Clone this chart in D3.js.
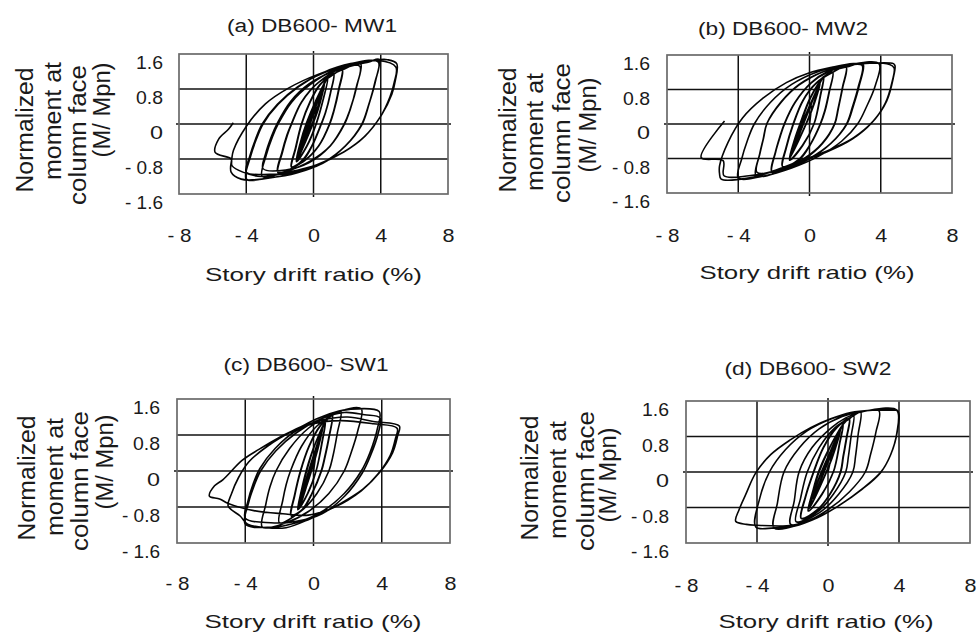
<!DOCTYPE html>
<html><head><meta charset="utf-8">
<script src="https://cdn.jsdelivr.net/npm/d3@7"></script>
<style>
body{margin:0;background:#fff}
svg{display:block}
text{font-family:Arial,"Liberation Sans",sans-serif;fill:#1a1a1a}
</style>
</head><body>
<svg id="chart" width="976" height="636"></svg>
<script>
// ---------- data ----------
const panelTitles = ["(a) DB600- MW1", "(b) DB600- MW2", "(c) DB600- SW1", "(d) DB600- SW2"];
const xTickValues = [-8, -4, 0, 4, 8];
const xTickLabels = ["- 8", "- 4", "0", "4", "8"];
const yTickValues = [1.6, 0.8, 0, -0.8, -1.6];
const yTickLabels = ["1.6", "0.8", "0", "- 0.8", "- 1.6"];
const xGridValues = [-4, 0, 4];
const yGridValues = [0.8, 0, -0.8];
const xTitle = "Story drift ratio (%)";
const yTitleLines = ["Normalized", "moment at", "column face", "(M/ Mpn)"];

// hysteresis paths: [story drift ratio (%), M/Mpn]
const pathA = [
 [0,0],[0.17,0.45],[-0.61,-0.45],[0.2,0.47],[-0.6,-0.47],
 [0.3,0.6],[-0.74,-0.6],[0.32,0.62],[-0.72,-0.62],
 [0.55,0.85],[0.1,0.2],[-0.9,-0.78],[-0.45,-0.2],[0.58,0.88],
 [0.62,0.92],[0.2,0.3],[-0.95,-0.8],[-0.5,-0.25],[0.66,0.95],[0.25,0.3],[-0.98,-0.82],[-0.55,-0.25],[0.7,0.98],
 [0.85,1.05],[0.6,0.6],[0.15,0.0],[-0.4,-0.5],[-1.0,-0.85],[-0.75,-0.4],[-0.4,0.0],[0.1,0.5],[0.85,1.05],
 [0.62,0.62],[0.18,0.02],[-0.38,-0.5],[-1.02,-0.86],[-0.78,-0.42],[-0.42,0.02],[0.12,0.52],[0.88,1.06],
 [1.2,1.15],[1.0,0.7],[0.7,0.25],[0.45,0.0],[-0.1,-0.5],[-0.6,-0.8],[-1.3,-1.0],[-1.05,-0.55],[-0.7,0.0],[-0.2,0.5],[0.4,0.9],[1.2,1.15],
 [1.02,0.72],[0.72,0.26],[0.47,0.0],[-0.08,-0.5],[-0.6,-0.82],[-1.32,-0.98],[-1.08,-0.56],[-0.72,0.0],[-0.22,0.5],[0.38,0.9],[1.22,1.14],
 [1.7,1.25],[1.5,0.8],[1.2,0.3],[0.95,0.0],[0.3,-0.5],[-0.6,-0.85],[-2.1,-1.12],[-1.85,-0.65],[-1.55,-0.25],[-1.3,0.0],[-0.7,0.5],[0.3,0.95],[1.7,1.25],
 [1.52,0.8],[1.22,0.3],[0.97,0.0],[0.32,-0.5],[-0.6,-0.86],[-2.12,-1.1],[-1.88,-0.65],[-1.58,-0.25],[-1.32,0.0],[-0.72,0.5],[0.3,0.95],[1.72,1.24],
 [2.8,1.38],[2.6,0.9],[2.2,0.35],[1.85,0.0],[1.0,-0.5],[-0.2,-0.85],[-1.6,-1.08],[-3.05,-1.2],[-2.8,-0.7],[-2.45,-0.3],[-2.1,0.0],[-1.3,0.5],[-0.2,0.9],[1.2,1.22],[2.75,1.32],
 [2.55,0.85],[2.15,0.3],[1.8,-0.02],[0.95,-0.52],[-0.25,-0.88],[-1.65,-1.05],[-3.0,-1.02],[-2.85,-0.68],[-2.5,-0.28],[-2.15,0.02],[-1.35,0.52],[-0.25,0.92],[1.15,1.2],[2.6,1.36],[3.3,1.42],
 [3.9,1.48],[3.7,1.0],[3.3,0.45],[2.9,0.0],[1.9,-0.5],[0.6,-0.88],[-1.0,-1.12],[-2.6,-1.23],[-4.0,-1.26],[-3.75,-0.75],[-3.4,-0.35],[-3.0,0.0],[-2.1,0.45],[-0.9,0.85],[0.6,1.18],[2.2,1.38],[3.85,1.42],
 [3.65,0.95],[3.25,0.4],[2.85,-0.02],[1.85,-0.52],[0.55,-0.9],[-1.05,-1.1],[-2.6,-1.15],[-4.0,-1.1],[-3.8,-0.75],[-3.45,-0.35],[-3.05,0.0],[-2.15,0.45],[-0.95,0.85],[0.55,1.16],[2.2,1.36],[3.9,1.47],[4.4,1.47],[4.95,1.38],
 [4.86,0.98],[4.66,0.68],[4.07,0.22],[3.08,-0.27],[1.88,-0.62],[0.3,-0.92],[-1.49,-1.15],[-3.08,-1.26],[-4.3,-1.26],[-4.9,-1.1],
 [-4.86,-0.8],[-4.76,-0.6],[-3.99,-0.05],[-2.86,0.46],[-1.49,0.82],[0.3,1.14],[2.26,1.37],[3.87,1.45],[4.9,1.3],
 [4.8,0.95],[4.55,0.62],[4.0,0.18],[3.0,-0.3],[1.8,-0.64],[0.2,-0.93],[-1.5,-1.1],[-3.1,-1.2],[-4.2,-1.1],[-4.85,-0.95],[-4.9,-0.8],
 [-5.85,-0.65],[-5.65,-0.35],[-5.06,-0.12],[-4.77,0.03]
];

const pathB = [
 [0,0],[0.09,0.45],[-0.79,-0.45],[0.1,0.46],[-0.78,-0.46],
 [0.23,0.6],[-0.93,-0.6],[0.25,0.62],[-0.92,-0.6],
 [0.48,0.85],[0.05,0.25],[-1.08,-0.75],[-0.6,-0.2],[0.5,0.87],
 [0.55,0.92],[0.1,0.3],[-1.1,-0.78],[-0.65,-0.25],[0.6,0.95],[0.12,0.3],[-1.12,-0.8],[-0.68,-0.25],[0.65,1.0],
 [0.8,1.1],[0.6,0.65],[0.25,0.0],[-0.4,-0.5],[-1.1,-0.82],[-0.85,-0.4],[-0.5,0.0],[0.05,0.6],[0.8,1.1],
 [0.62,0.66],[0.27,0.02],[-0.38,-0.5],[-1.12,-0.84],[-0.87,-0.4],[-0.52,0.02],[0.05,0.62],[0.82,1.1],
 [1.3,1.2],[1.1,0.75],[0.85,0.3],[0.6,0.0],[0.0,-0.5],[-0.6,-0.82],[-1.5,-1.0],[-1.3,-0.55],[-0.9,0.0],[-0.35,0.55],[0.4,0.95],[1.3,1.2],
 [1.12,0.76],[0.87,0.3],[0.62,0.0],[0.02,-0.5],[-0.6,-0.84],[-1.52,-0.98],[-1.32,-0.55],[-0.92,0.0],[-0.37,0.55],[0.4,0.96],[1.32,1.2],
 [2.05,1.33],[1.85,0.85],[1.6,0.35],[1.4,0.0],[0.7,-0.45],[-0.3,-0.8],[-1.2,-1.0],[-2.1,-1.12],[-1.9,-0.65],[-1.65,-0.3],[-1.4,0.0],[-0.8,0.5],[0.1,0.95],[1.0,1.2],[2.05,1.33],
 [1.87,0.86],[1.62,0.36],[1.42,0.0],[0.72,-0.46],[-0.3,-0.82],[-1.2,-1.0],[-2.12,-1.1],[-1.92,-0.66],[-1.67,-0.3],[-1.42,0.0],[-0.82,0.5],[0.1,0.96],[1.0,1.21],[2.07,1.32],
 [3.0,1.4],[2.8,0.9],[2.45,0.4],[2.1,0.0],[1.2,-0.45],[0.0,-0.8],[-1.5,-1.08],[-3.0,-1.2],[-2.8,-0.7],[-2.6,-0.35],[-2.4,0.0],[-1.6,0.5],[-0.6,0.9],[0.8,1.22],[2.0,1.35],[2.95,1.36],
 [2.75,0.88],[2.4,0.38],[2.05,-0.02],[1.15,-0.47],[-0.05,-0.82],[-1.55,-1.06],[-2.95,-1.12],[-2.78,-0.68],[-2.58,-0.33],[-2.38,0.02],[-1.58,0.52],[-0.58,0.92],[0.8,1.22],[2.2,1.37],
 [3.9,1.4],[3.7,0.9],[3.2,0.4],[2.7,0.0],[1.8,-0.4],[0.5,-0.75],[-1.0,-1.02],[-2.5,-1.2],[-4.0,-1.25],[-3.8,-0.8],[-3.5,-0.4],[-3.1,0.0],[-2.2,0.5],[-1.0,0.92],[0.5,1.22],[2.0,1.37],[3.0,1.4],[4.71,1.4],[4.8,1.35],
 [4.71,1.08],[4.33,0.53],[3.58,0.07],[2.46,-0.32],[0.95,-0.63],[-0.56,-0.86],[-2.05,-1.09],[-3.36,-1.25],[-4.96,-1.28],[-5.05,-1.15],[-5.05,-0.97],
 [-4.58,-0.43],[-3.76,0.14],[-2.61,0.6],[-1.3,0.96],[0,1.19],[1.31,1.32],[2.46,1.4],[4.5,1.38],[4.75,1.3],
 [4.65,1.0],[4.25,0.48],[3.5,0.03],[2.4,-0.35],[0.9,-0.66],[-0.6,-0.88],[-2.1,-1.1],[-3.4,-1.2],[-4.8,-1.2],[-4.85,-0.85],
 [-6.08,-0.78],[-4.77,0.07]
];

const pathC = [
 [0,0],[0.15,0.45],[-0.53,-0.45],[0.17,0.47],[-0.52,-0.46],
 [0.26,0.6],[-0.64,-0.6],[0.28,0.62],[-0.63,-0.61],
 [0.45,0.85],[0.05,0.25],[-0.78,-0.78],[-0.4,-0.2],[0.47,0.87],
 [0.52,0.95],[0.1,0.3],[-0.82,-0.8],[-0.45,-0.25],[0.56,0.98],[0.12,0.3],[-0.85,-0.82],[-0.48,-0.25],[0.6,1.02],
 [0.7,1.1],[0.5,0.65],[0.15,0.0],[-0.35,-0.5],[-0.9,-0.85],[-0.7,-0.45],[-0.4,0.0],[0.05,0.55],[0.7,1.1],
 [0.52,0.66],[0.17,0.02],[-0.33,-0.5],[-0.92,-0.86],[-0.72,-0.45],[-0.42,0.02],[0.05,0.56],[0.72,1.1],
 [1.1,1.25],[0.9,0.75],[0.65,0.3],[0.45,0.0],[-0.1,-0.5],[-0.65,-0.85],[-1.3,-1.0],[-1.1,-0.55],[-0.75,0.0],[-0.25,0.55],[0.4,1.0],[1.1,1.25],
 [0.92,0.76],[0.67,0.3],[0.47,0.0],[-0.08,-0.5],[-0.65,-0.86],[-1.32,-0.98],[-1.12,-0.55],[-0.77,0.0],[-0.27,0.55],[0.4,1.01],[1.12,1.24],
 [1.6,1.33],[1.4,0.85],[1.15,0.35],[0.9,0.0],[0.2,-0.5],[-0.7,-0.88],[-2.0,-1.15],[-1.8,-0.65],[-1.6,-0.3],[-1.35,0.0],[-0.7,0.55],[0.2,1.0],[1.6,1.33],
 [2.8,1.38],[2.6,0.9],[2.2,0.4],[1.8,0.0],[0.9,-0.5],[-0.3,-0.9],[-1.6,-1.15],[-3.0,-1.25],[-2.8,-0.75],[-2.55,-0.35],[-2.2,0.0],[-1.4,0.5],[-0.3,0.95],[1.1,1.28],[2.1,1.37],[3.85,1.32],
 [3.75,0.95],[3.3,0.4],[2.8,0.0],[1.8,-0.5],[0.5,-0.9],[-1.0,-1.15],[-2.5,-1.25],[-4.0,-1.18],
 [-3.8,-0.7],[-3.5,-0.35],[-3.1,0.0],[-2.2,0.45],[-1.0,0.85],[0.4,1.15],[1.8,1.3],[3.0,1.25],[3.9,1.18],
 [3.8,0.85],[3.35,0.35],[2.85,-0.05],[1.85,-0.55],[0.5,-0.95],[-1.0,-1.12],[-2.5,-1.15],[-4.0,-1.05],
 [-3.85,-0.68],[-3.55,-0.3],[-3.15,0.05],[-2.25,0.5],[-1.0,0.9],[0.4,1.12],[2.0,1.2],[3.5,1.1],[5.03,1.0],
 [4.93,0.78],[4.64,0.41],[3.86,-0.04],[2.88,-0.41],[1.32,-0.78],[-0.24,-1.07],[-1.61,-1.26],[-2.78,-1.26],[-3.86,-1.18],[-4.3,-1.0],[-5.0,-0.78],
 [-4.8,-0.5],[-4.4,-0.15],[-3.8,0.2],[-2.7,0.55],[-1.4,0.85],[0.0,1.05],[1.6,1.12],[3.5,1.05],[4.9,0.95],
 [4.8,0.72],[4.5,0.35],[3.75,-0.08],[2.8,-0.44],[1.25,-0.8],[-0.3,-0.98],[-1.8,-0.95],[-3.5,-0.88],[-5.0,-0.72],
 [-5.5,-0.62],[-6.1,-0.56],[-5.8,-0.33],[-5.3,-0.19],[-4.17,0.24],[-3.2,0.48],[-2.03,0.74],[-0.86,0.96],[0.31,1.18],[1.49,1.33],[2.1,1.37]
];

const pathD = [
 [0,0],[0.22,0.45],[-0.68,-0.45],[0.24,0.47],[-0.67,-0.46],
 [0.37,0.6],[-0.82,-0.6],[0.39,0.62],[-0.8,-0.6],
 [0.6,0.85],[0.15,0.25],[-1.0,-0.78],[-0.55,-0.2],[0.62,0.87],
 [0.66,0.92],[0.2,0.3],[-1.02,-0.8],[-0.6,-0.25],[0.7,0.95],[0.22,0.3],[-1.05,-0.82],[-0.62,-0.25],[0.75,1.0],
 [0.85,1.07],[0.65,0.65],[0.3,0.0],[-0.35,-0.5],[-1.1,-0.88],[-0.85,-0.45],[-0.5,0.0],[0.1,0.55],[0.85,1.07],
 [0.67,0.66],[0.32,0.02],[-0.33,-0.5],[-1.12,-0.88],[-0.87,-0.45],[-0.52,0.02],[0.1,0.56],[0.87,1.08],
 [1.2,1.2],[1.05,0.8],[0.85,0.35],[0.7,0.0],[0.1,-0.5],[-0.6,-0.85],[-1.5,-1.05],[-1.25,-0.55],[-0.8,0.0],[-0.25,0.55],[0.5,1.0],[1.2,1.2],
 [1.07,0.8],[0.87,0.35],[0.72,0.0],[0.12,-0.5],[-0.6,-0.86],[-1.52,-1.04],[-1.27,-0.55],[-0.82,0.0],[-0.27,0.55],[0.5,1.01],[1.22,1.2],
 [1.45,1.27],[1.3,0.8],[1.15,0.35],[1.0,0.0],[0.3,-0.5],[-0.6,-0.9],[-1.8,-1.12],[-1.55,-0.6],[-1.17,0.0],[-0.5,0.55],[0.4,1.0],[1.45,1.27],
 [1.84,1.35],[1.7,0.85],[1.55,0.35],[1.4,0.0],[0.6,-0.5],[-0.5,-0.92],[-2.1,-1.18],[-1.9,-0.65],[-1.63,0.0],[-0.9,0.55],[0.2,1.0],[1.0,1.22],[1.84,1.35],
 [2.87,1.38],[2.7,0.9],[2.4,0.4],[2.1,0.0],[1.2,-0.45],[0.0,-0.85],[-1.4,-1.15],[-3.04,-1.26],[-2.85,-0.7],[-2.48,0.0],[-1.6,0.55],[-0.5,0.97],[0.8,1.25],[2.0,1.37],[3.9,1.39],
 [3.9,0.91],[3.53,0.39],[3.0,0.01],[2.0,-0.36],[0.68,-0.74],[-0.6,-1.03],[-1.92,-1.22],[-3.04,-1.26],[-4.07,-1.24],
 [-3.85,-0.6],[-3.3,0.0],[-2.4,0.5],[-1.2,0.92],[0.2,1.2],[1.5,1.34],[2.5,1.39],[3.88,1.39],
 [3.88,0.88],[3.5,0.36],[2.95,-0.02],[1.95,-0.38],[0.6,-0.76],[-0.7,-1.05],[-2.0,-1.2],[-4.0,-1.2],[-4.6,-1.18],[-5.2,-1.11],
 [-5.01,-0.85],[-4.64,-0.51],[-4.07,-0.02],[-3.23,0.39],[-2.1,0.73],[-0.98,1.0],[0.15,1.2],[1.28,1.34],[2.4,1.39],[3.9,1.39]
];

const panelPaths = [pathA, pathB, pathC, pathD];

// ---------- layout (pixels) ----------
const layout = [
 {frame:[179,448,54,194], title:[312,26,170], yTickRight:163, xTickDy:41, xTitle:[313.5,274,217],
  yTitleX:[25,53,78,102], yTitleY:[130,121,135,110]},
 {frame:[667,952,55,193], title:[783,29,170], yTickRight:650, xTickDy:42, xTitle:[807,272,215],
  yTitleX:[508,535,562,588], yTitleY:[130,132,133,125]},
 {frame:[177,450,399,543], title:[306,365,165], yTickRight:160, xTickDy:40, xTitle:[313,621,217],
  yTitleX:[27,55,80,105], yTitleY:[478,477,481,462]},
 {frame:[686,970,401,543], title:[808,369,167], yTickRight:669, xTickDy:42, xTitle:[826,621,215],
  yTitleX:[530,558,586,608], yTitleY:[478,480,481,475]}
];
const yTickWidth = {"1.6":27,"0.8":27,"0":13,"- 0.8":38,"- 1.6":38};
const xTickWidth = {"- 8":24,"- 4":24,"0":12,"4":12,"8":12};
const yTitleLen = [125,118,140,95];
const FONT = "Arial, 'Liberation Sans', sans-serif";

const svg = d3.select("#chart");

panelTitles.forEach((title, i) => {
  const L = layout[i];
  const [fx0, fx1, fy0, fy1] = L.frame;
  const x = d3.scaleLinear().domain([-8, 8]).range([fx0, fx1]);
  const y = d3.scaleLinear().domain([-1.6, 1.6]).range([fy1, fy0]);
  const g = svg.append("g");

  // grid
  g.selectAll(".vg").data(xGridValues).join("line")
    .attr("x1", d => x(d)).attr("x2", d => x(d))
    .attr("y1", d => d === 0 ? fy0 - 3 : fy0).attr("y2", d => d === 0 ? fy1 + 3 : fy1)
    .attr("stroke", "#111").attr("stroke-width", 1.5);
  g.selectAll(".hg").data(yGridValues).join("line")
    .attr("y1", d => y(d)).attr("y2", d => y(d))
    .attr("x1", d => d === 0 ? fx0 - 3 : fx0).attr("x2", d => d === 0 ? fx1 + 3 : fx1)
    .attr("stroke", "#111").attr("stroke-width", 1.5);
  // frame
  g.append("rect").attr("x", fx0).attr("y", fy0).attr("width", fx1 - fx0).attr("height", fy1 - fy0)
    .attr("fill", "none").attr("stroke", "#6a6a6a").attr("stroke-width", 1.7);

  // hysteresis curve
  const line = d3.line().x(d => x(d[0])).y(d => y(d[1])).curve(d3.curveCatmullRom.alpha(0.5));
  g.append("path").datum(panelPaths[i]).attr("d", line)
    .attr("fill", "none").attr("stroke", "#050505").attr("stroke-width", 1.6).attr("stroke-linejoin", "round");

  // x axis tick labels
  const xa = g.append("g").attr("transform", `translate(0,${fy1})`)
    .call(d3.axisBottom(x).tickValues(xTickValues).tickFormat((d, k) => xTickLabels[k]).tickSize(0));
  xa.select(".domain").remove();
  xa.selectAll("text").attr("y", L.xTickDy).attr("dy", "0.36em")
    .attr("font-size", 18.5).attr("font-family", FONT).attr("fill", "#1a1a1a")
    .attr("textLength", function () { return xTickWidth[this.textContent]; })
    .attr("lengthAdjust", "spacingAndGlyphs");

  // y axis tick labels
  const ya = g.append("g").attr("transform", `translate(${L.yTickRight},0)`)
    .call(d3.axisLeft(y).tickValues(yTickValues).tickFormat((d, k) => yTickLabels[k]).tickSize(0));
  ya.select(".domain").remove();
  ya.selectAll("text").attr("x", 0).attr("y", 8).attr("dy", "0.36em")
    .attr("font-size", 18.5).attr("font-family", FONT).attr("fill", "#1a1a1a")
    .attr("textLength", function () { return yTickWidth[this.textContent]; })
    .attr("lengthAdjust", "spacingAndGlyphs");

  // title
  g.append("text").attr("x", L.title[0]).attr("y", L.title[1]).attr("dy", "0.36em")
    .attr("text-anchor", "middle").attr("font-size", 18)
    .attr("textLength", L.title[2]).attr("lengthAdjust", "spacingAndGlyphs").text(title);

  // x title
  g.append("text").attr("x", L.xTitle[0]).attr("y", L.xTitle[1]).attr("dy", "0.36em")
    .attr("text-anchor", "middle").attr("font-size", 19)
    .attr("textLength", L.xTitle[2]).attr("lengthAdjust", "spacingAndGlyphs").text(xTitle);

  // y title (rotated, four lines)
  yTitleLines.forEach((t, k) => {
    g.append("text")
      .attr("transform", `translate(${L.yTitleX[k]},${L.yTitleY[k]}) rotate(-90)`)
      .attr("dy", "0.36em").attr("text-anchor", "middle").attr("font-size", 23)
      .attr("textLength", yTitleLen[k]).attr("lengthAdjust", "spacingAndGlyphs").text(t);
  });
});
</script>
</body></html>
